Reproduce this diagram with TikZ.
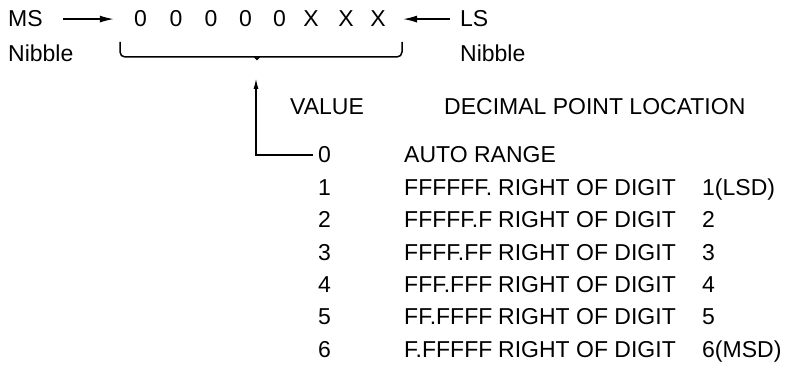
\documentclass[tikz,border=0pt]{standalone}
\usepackage{fontspec}
\setmainfont{Liberation Sans}
\usetikzlibrary{arrows.meta}
\begin{document}
\begin{tikzpicture}[x=1pt,y=-1pt,
  txt/.style={inner sep=0pt, anchor=base west, font=\fontsize{23}{27}\selectfont},
  dig/.style={inner sep=0pt, anchor=base, font=\fontsize{23}{27}\selectfont},
  line/.style={line width=1.5pt},
  arr/.style={line width=1.5pt, -{Latex[length=14pt,width=7pt]}},
  varr/.style={line width=1.5pt, -{Latex[length=11pt,width=5pt]}}]
\useasboundingbox (0,0) rectangle (785,371);
% top row
\node[txt] (ms) at (8,27) {MS};
\node[txt] (nibl) at (8,62) {Nibble};
\node[txt] (ls) at (460,27) {LS};
\node[txt] (nibr) at (460,62) {Nibble};
\foreach \x/\c [count=\i] in {140.5/0,176/0,211/0,245.5/0,279.5/0,311/X,346/X,378/X}
  \node[dig] (d\i) at (\x,27) {\c};
\draw[arr] ([xshift=20pt]ms.east) -- ([xshift=-20pt]d1.west);
\draw[arr] ([xshift=-10pt]ls.west) -- ([xshift=-2pt]ls.west -| 405,0);
% brace
\coordinate (bl) at (120,42);
\coordinate (br) at (402,42);
\coordinate (tip) at (257,62);
\draw[line, rounded corners=5pt] (bl) -- (120,57) -- (251,57)
  .. controls (255,57) .. (tip) .. controls (259,57) .. (263,57)
  -- (402,57) -- (br);
% headings
\node[txt] (value) at (290,115) {VALUE};
\node[txt] (dpl) at (444,115) {DECIMAL POINT LOCATION};
% rows
\foreach \n/\f/\d [count=\i from 0] in {
  0/AUTO RANGE/,
  1/FFFFFF./1(LSD),
  2/FFFFF.F/2,
  3/FFFF.FF/3,
  4/FFF.FFF/4,
  5/FF.FFFF/5,
  6/F.FFFFF/6(MSD)}{
  \pgfmathsetmacro{\yy}{163+32.4*\i}
  \node[txt] (v\n) at (318,\yy) {\n};
  \node[txt] (f\n) at (404,\yy) {\f};
  \ifnum\i>0
    \node[txt] (r\n) at (498,\yy) {RIGHT OF DIGIT};
    \node[txt] (g\n) at (702,\yy) {\d};
  \fi
}
% value arrow
\coordinate (atop) at (256,78);
\draw[varr] ([xshift=-5pt]v0.west) -| (atop);
\end{tikzpicture}
\end{document}
